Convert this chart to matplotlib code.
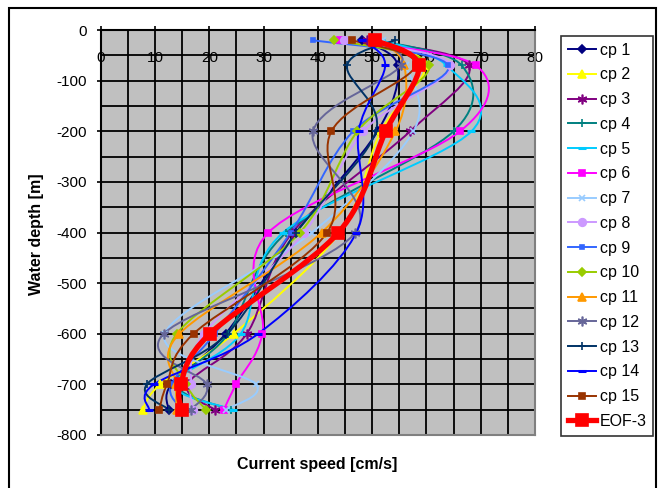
import numpy as np
import matplotlib
matplotlib.use("Agg")
import matplotlib.pyplot as plt
from matplotlib.path import Path
from matplotlib.patches import PathPatch, Rectangle
from matplotlib.lines import Line2D

plt.rcParams['font.family'] = ['Liberation Sans', 'DejaVu Sans']
plt.rcParams['axes.unicode_minus'] = False

# Measurement depths [m]
depths = [-20, -70, -200, -400, -600, -700, -750]

# Current speed profiles [cm/s] at each depth
cp1 = [48.1, 54.7, 51.0, 36.0, 23.0, 13.0, 12.5]
cp2 = [50.0, 59.8, 51.6, 44.0, 24.5, 11.0, 7.7]
cp3 = [49.0, 67.8, 57.0, 35.3, 26.9, 16.0, 21.0]
cp4 = [51.0, 66.5, 65.0, 34.2, 23.5, 14.0, 24.0]
cp5 = [51.7, 63.7, 68.3, 33.6, 25.8, 13.5, 24.4]
cp6 = [44.1, 69.1, 66.2, 30.9, 29.8, 24.9, 22.7]
cp7 = [52.0, 56.2, 57.6, 38.9, 11.8, 28.6, 23.0]
cp8 = [44.9, 64.4, 48.4, 37.5, 19.0, 16.6, 17.0]
cp9 = [39.1, 64.0, 46.5, 35.0, 21.0, 13.0, 15.0]
cp10 = [43.0, 60.5, 47.3, 36.7, 14.0, 15.8, 19.4]
cp11 = [51.0, 55.9, 54.3, 40.7, 14.5, 13.9, 14.0]
cp12 = [50.0, 55.3, 39.1, 46.9, 11.6, 19.5, 16.6]
cp13 = [54.2, 45.4, 50.7, 36.0, 23.3, 8.5, 12.6]
cp14 = [48.1, 52.4, 47.5, 47.1, 29.0, 9.8, 8.9]
cp15 = [46.3, 58.0, 42.5, 41.7, 17.1, 12.2, 10.8]
eof3 = [50.5, 58.6, 52.5, 43.8, 20.1, 14.7, 14.9]

labels = ['cp 1', 'cp 2', 'cp 3', 'cp 4', 'cp 5', 'cp 6', 'cp 7', 'cp 8',
          'cp 9', 'cp 10', 'cp 11', 'cp 12', 'cp 13', 'cp 14', 'cp 15', 'EOF-3']
series = [cp1, cp2, cp3, cp4, cp5, cp6, cp7, cp8, cp9, cp10, cp11, cp12,
          cp13, cp14, cp15, eof3]

asterisk = (6, 2, 0)
styles = [
    dict(color='#000080', marker='D', ms=4),
    dict(color='#FFFF00', marker='^', ms=5.5),
    dict(color='#800080', marker=asterisk, ms=7),
    dict(color='#008080', marker='+', ms=6),
    dict(color='#00CCFF', marker='_', ms=6),
    dict(color='#FF00FF', marker='s', ms=5),
    dict(color='#99CCFF', marker='x', ms=5),
    dict(color='#CC99FF', marker='o', ms=5.5),
    dict(color='#3366FF', marker='s', ms=3.5),
    dict(color='#99CC00', marker='D', ms=4.5),
    dict(color='#FF9900', marker='^', ms=5.5),
    dict(color='#666699', marker=asterisk, ms=7),
    dict(color='#003366', marker='+', ms=6),
    dict(color='#0000FF', marker='_', ms=6),
    dict(color='#993300', marker='s', ms=5),
    dict(color='#FF0000', marker='s', ms=9),
]


def smooth_path(xs, ys):
    """Cubic Bezier path through the points (Catmull-Rom style smoothing)."""
    pts = np.column_stack([xs, ys]).astype(float)
    n = len(pts)
    verts = [pts[0]]
    codes = [Path.MOVETO]
    for i in range(n - 1):
        p0 = pts[i - 1] if i > 0 else pts[i]
        p1 = pts[i]
        p2 = pts[i + 1]
        p3 = pts[i + 2] if i + 2 < n else pts[i + 1]
        c1 = p1 + (p2 - p0) / 6.0
        c2 = p2 - (p3 - p1) / 6.0
        verts += [c1, c2, p2]
        codes += [Path.CURVE4] * 3
    return Path(verts, codes)


fig = plt.figure(figsize=(6.63, 4.88), dpi=100)
ax = fig.add_axes([100.7 / 663, 1 - 435 / 488, (535 - 100.7) / 663, (435 - 30) / 488])
ax.set_facecolor('#C0C0C0')

handles = []
for vals, lab, st in zip(series, labels, styles):
    is_eof = lab == 'EOF-3'
    lw = 3.8 if is_eof else 1.4
    patch = PathPatch(smooth_path(vals, depths), fill=False, edgecolor=st['color'],
                      lw=lw, zorder=4 if is_eof else 3, capstyle='round', joinstyle='round')
    ax.add_patch(patch)
    mew = 2.2 if st['marker'] == '_' else 1.2
    ax.plot(vals, depths, linestyle='none', marker=st['marker'], ms=st['ms'],
            color=st['color'], mec=st['color'], mew=mew, zorder=5 if is_eof else 3.5)
    handles.append(Line2D([], [], color=st['color'], lw=lw, marker=st['marker'],
                          ms=st['ms'], mew=mew))

ax.set_xlim(0, 80)
ax.set_ylim(-800, 0)

ax.set_xticks(np.arange(0, 81, 10))
ax.set_xticks(np.arange(0, 81, 5), minor=True)
ax.set_yticks(np.arange(-800, 1, 100))
ax.set_yticks(np.arange(-800, 1, 50), minor=True)
ax.grid(True, which='both', color='black', lw=1.3)
ax.set_axisbelow(True)

ax.xaxis.set_ticks_position('top')
ax.tick_params(axis='x', which='major', top=True, bottom=False, labeltop=True,
               labelbottom=False, direction='out', length=3, width=1.2,
               pad=-28, labelsize=11)
ax.tick_params(axis='y', which='major', direction='out', length=3, width=1.2,
               pad=7, labelsize=11)
ax.tick_params(which='minor', length=0)

for side in ('top', 'left'):
    ax.spines[side].set_color('black')
    ax.spines[side].set_linewidth(1.5)
for side in ('right', 'bottom'):
    ax.spines[side].set_color('#808080')
    ax.spines[side].set_linewidth(1.5)

fig.text(36 / 663, 1 - 234 / 488, 'Water depth [m]', rotation=90, ha='center',
         va='center', fontsize=11.5, fontweight='bold')
fig.text(317 / 663, 1 - 465 / 488, 'Current speed [cm/s]', ha='center',
         va='center', fontsize=11.5, fontweight='bold')

leg = fig.legend(handles, labels, loc='upper left',
                 bbox_to_anchor=(561 / 663, 1 - 36 / 488), borderaxespad=0,
                 fontsize=11.5, frameon=True, fancybox=False, edgecolor='black',
                 handlelength=1.75, handletextpad=0.25, labelspacing=0.61,
                 borderpad=0.42)
leg.get_frame().set_linewidth(1.2)

fig.add_artist(Rectangle((9 / 663, -0.02), (656 - 9) / 663, 1.02 - 8 / 488,
                         transform=fig.transFigure, fill=False,
                         edgecolor='black', lw=1.5))

fig.savefig('out.png', dpi=100)
